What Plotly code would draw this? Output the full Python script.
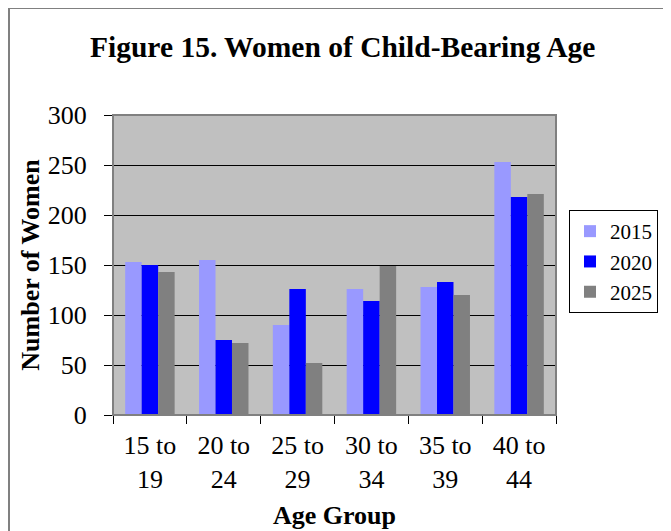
import plotly.graph_objects as go

# chart data
age_groups = ["15 to<br>19", "20 to<br>24", "25 to<br>29", "30 to<br>34", "35 to<br>39", "40 to<br>44"]
women_2015 = [153, 155, 90, 126, 128, 253]
women_2020 = [150, 75, 126, 114, 133, 218]
women_2025 = [143, 72, 52, 149, 120, 221]
y_ticks = [0, 50, 100, 150, 200, 250, 300]

serif = "Liberation Serif, Times New Roman, serif"

fig = go.Figure()
fig.add_trace(go.Bar(x=age_groups, y=women_2015, name="2015", marker_color="#9999FF"))
fig.add_trace(go.Bar(x=age_groups, y=women_2020, name="2020", marker_color="#0000FF"))
fig.add_trace(go.Bar(x=age_groups, y=women_2025, name="2025", marker_color="#808080"))

fig.update_traces(marker_line_width=0)

# page body adds 8px, so work in screen pixels and subtract it
OFF = 8
FW, FH = 671 - OFF, 531 - OFF
# plot area on screen: x 113-556, y 115-415
L, R, T, B = 113, 556, 115, 415
W, H = R - L, B - T

def px(x):
    return (x - L) / W

def py(y):
    return (B - y) / H

fig.update_layout(
    width=FW, height=FH,
    margin=dict(l=L - OFF, r=FW - (R - OFF), t=T - OFF, b=FH - (B - OFF), pad=0,
                autoexpand=False),
    paper_bgcolor="white",
    plot_bgcolor="#C0C0C0",
    barmode="group",
    bargap=0.33,
    bargroupgap=0,
    font=dict(family=serif, size=26, color="black"),
    showlegend=True,
    legend=dict(
        x=px(569), y=py(210), xanchor="left", yanchor="top",
        bordercolor="black", borderwidth=1, bgcolor="white",
        font=dict(size=21), itemwidth=30,
    ),
    annotations=[
        dict(text="<b>Figure 15. Women of Child-Bearing Age</b>", xref="paper", yref="paper",
             x=px(342), y=py(47), xanchor="center", yanchor="middle",
             showarrow=False, font=dict(size=29.5, family=serif)),
    ],
    shapes=[
        # outer chart frame
        dict(type="line", xref="paper", yref="paper", x0=px(9), x1=px(9), y0=py(8), y1=py(540),
             line=dict(color="#808080", width=2)),
        dict(type="line", xref="paper", yref="paper", x0=px(9), x1=px(680), y0=py(8), y1=py(8),
             line=dict(color="#808080", width=2)),
        # plot area border
        dict(type="rect", xref="paper", yref="paper", x0=0, x1=1, y0=0, y1=1,
             line=dict(color="#808080", width=2), layer="above"),
    ],
)

fig.update_xaxes(
    automargin=False,
    showline=True, linecolor="black", linewidth=1,
    ticks="outside", tickson="boundaries", ticklen=8, tickcolor="black",
    tickfont=dict(size=26), ticklabelstandoff=7,
    title=dict(text="<b>Age Group</b>", font=dict(size=26), standoff=12),
    showgrid=False,
)
fig.update_yaxes(
    automargin=False,
    range=[0, 300], tickvals=y_ticks,
    showline=True, linecolor="black", linewidth=1,
    ticks="outside", ticklen=8, tickcolor="black",
    showgrid=True, gridcolor="black", gridwidth=1,
    tickfont=dict(size=26), ticklabelstandoff=12,
    title=dict(text="<b>Number of Women</b>", font=dict(size=26), standoff=0),
    zeroline=False,
)

fig.write_html("out.html")
